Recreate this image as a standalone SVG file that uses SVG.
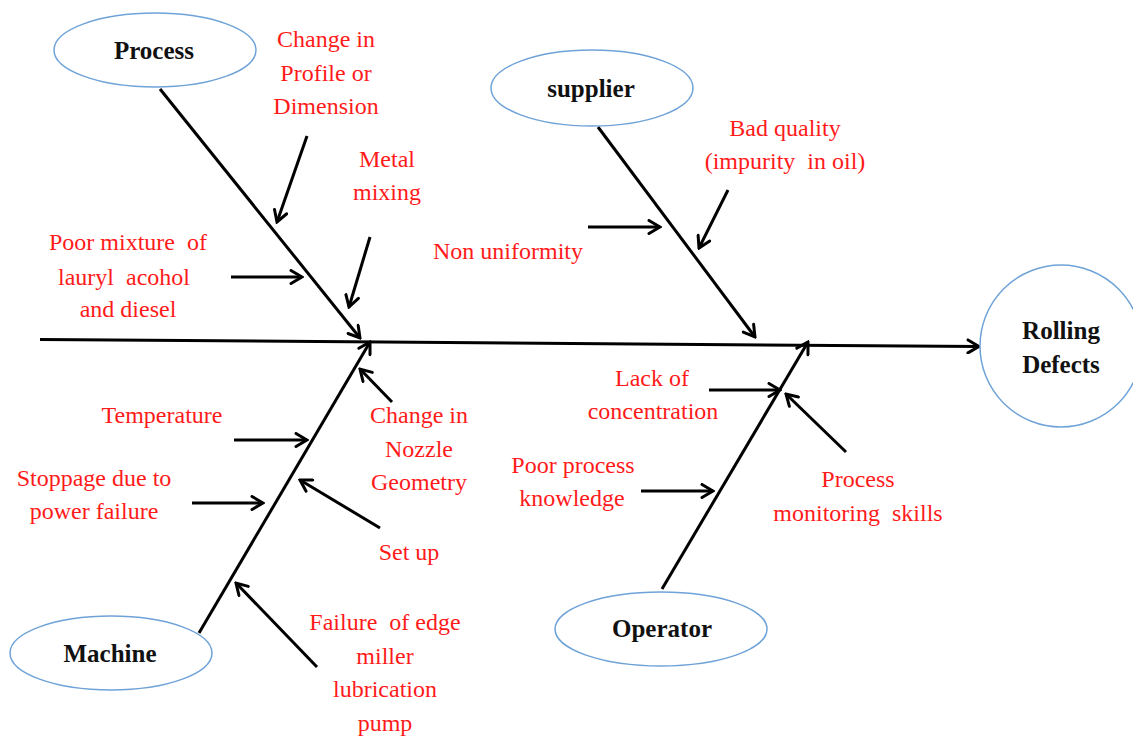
<svg xmlns="http://www.w3.org/2000/svg" width="1133" height="738" viewBox="0 0 1133 738">
<style>
.node{fill:#fff;stroke:#6FA3D8;stroke-width:1.5}
.lbl{font-family:"Liberation Serif",serif;font-weight:bold;font-size:25px;fill:#111;text-anchor:middle}
.cause{font-family:"Liberation Serif",serif;font-size:24px;fill:#FF1A1A;text-anchor:middle;white-space:pre}
.bone{stroke:#000;stroke-width:3;fill:none;marker-end:url(#arr)}
</style>
<defs>
<marker id="arr" markerUnits="userSpaceOnUse" viewBox="0 0 16 16" refX="14" refY="8" markerWidth="16" markerHeight="16" orient="auto">
<path d="M3,1.5 L14,8 L3,14.5" fill="none" stroke="#000" stroke-width="3" stroke-linecap="round" stroke-linejoin="miter"/>
</marker>
</defs>
<rect width="1133" height="738" fill="#fff"/>
<g id="connectors">
<line class="bone" x1="40" y1="339.5" x2="979" y2="346.5"/>
<line class="bone" x1="160" y1="89" x2="360" y2="338"/>
<line class="bone" x1="598" y1="127" x2="755" y2="337"/>
<line class="bone" x1="199" y1="633" x2="370" y2="342"/>
<line class="bone" x1="662" y1="589" x2="808" y2="342"/>
<line class="bone" x1="307" y1="136" x2="277" y2="222"/>
<line class="bone" x1="370" y1="237" x2="349" y2="307"/>
<line class="bone" x1="231" y1="277" x2="302" y2="277"/>
<line class="bone" x1="588" y1="227" x2="660" y2="227"/>
<line class="bone" x1="728" y1="190" x2="699" y2="248"/>
<line class="bone" x1="392" y1="402" x2="360" y2="369"/>
<line class="bone" x1="234" y1="440" x2="307" y2="440"/>
<line class="bone" x1="192" y1="503" x2="263" y2="503"/>
<line class="bone" x1="380" y1="528" x2="300" y2="480"/>
<line class="bone" x1="317" y1="667" x2="236" y2="583"/>
<line class="bone" x1="709" y1="390" x2="780" y2="390"/>
<line class="bone" x1="846" y1="452" x2="786" y2="394"/>
<line class="bone" x1="641" y1="491" x2="713" y2="491"/>
</g>
<g id="process">
<ellipse class="node" cx="155" cy="50" rx="101" ry="37"/>
<text class="lbl" x="154" y="59">Process</text>
</g>
<g id="supplier">
<ellipse class="node" cx="592" cy="88" rx="101" ry="38"/>
<text class="lbl" x="591" y="97">supplier</text>
</g>
<g id="machine">
<ellipse class="node" cx="111" cy="653" rx="101" ry="37"/>
<text class="lbl" x="110" y="662">Machine</text>
</g>
<g id="operator">
<ellipse class="node" cx="661" cy="629" rx="106" ry="37"/>
<text class="lbl" x="662" y="637">Operator</text>
</g>
<g id="rolling-defects">
<circle class="node" cx="1061" cy="346" r="81"/>
<text class="lbl" x="1061" y="339">Rolling</text>
<text class="lbl" x="1061" y="373">Defects</text>
</g>
<g id="causes">
<text class="cause" x="326" y="47">Change in</text>
<text class="cause" x="326" y="81">Profile or</text>
<text class="cause" x="326" y="114">Dimension</text>
<text class="cause" x="387" y="167">Metal</text>
<text class="cause" x="387" y="200">mixing</text>
<text class="cause" x="128" y="250">Poor mixture  of</text>
<text class="cause" x="124" y="285">lauryl  acohol</text>
<text class="cause" x="128" y="317">and diesel</text>
<text class="cause" x="785" y="136">Bad quality</text>
<text class="cause" x="785" y="169">(impurity  in oil)</text>
<text class="cause" x="508" y="259">Non uniformity</text>
<text class="cause" x="162" y="423">Temperature</text>
<text class="cause" x="94" y="486">Stoppage due to</text>
<text class="cause" x="94" y="519">power failure</text>
<text class="cause" x="419" y="423">Change in</text>
<text class="cause" x="419" y="457">Nozzle</text>
<text class="cause" x="419" y="490">Geometry</text>
<text class="cause" x="409" y="560">Set up</text>
<text class="cause" x="385" y="630">Failure  of edge</text>
<text class="cause" x="385" y="664">miller</text>
<text class="cause" x="385" y="697">lubrication</text>
<text class="cause" x="385" y="731">pump</text>
<text class="cause" x="652" y="386">Lack of</text>
<text class="cause" x="653" y="419">concentration</text>
<text class="cause" x="573" y="473">Poor process</text>
<text class="cause" x="572" y="506">knowledge</text>
<text class="cause" x="858" y="487">Process</text>
<text class="cause" x="858" y="521">monitoring  skills</text>
</g>
</svg>
